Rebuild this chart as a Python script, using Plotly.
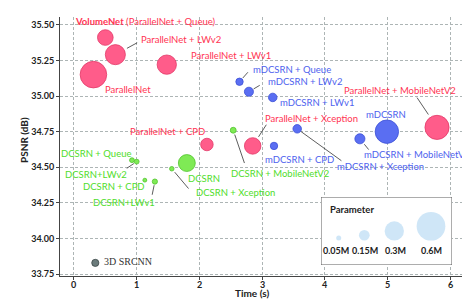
import plotly.graph_objects as go

# ---------------- data ----------------
pn_names = ["VolumeNet (ParallelNet + Queue)", "ParallelNet + LWv2", "ParallelNet",
            "ParallelNet + LWv1", "ParallelNet + CPD", "ParallelNet + Xception",
            "ParallelNet + MobileNetV2"]
pn_time = [0.50, 0.66, 0.31, 1.48, 2.12, 2.85, 5.79]
pn_psnr = [35.41, 35.29, 35.15, 35.22, 34.66, 34.65, 34.78]
pn_param = [0.27, 0.38, 0.56, 0.36, 0.20, 0.29, 0.49]

md_names = ["mDCSRN + Queue", "mDCSRN + LWv2", "mDCSRN + LWv1", "mDCSRN + CPD",
            "mDCSRN + Xception", "mDCSRN + MobileNetV2", "mDCSRN"]
md_time = [2.64, 2.79, 3.17, 3.19, 3.56, 4.56, 4.99]
md_psnr = [35.10, 35.03, 34.99, 34.65, 34.77, 34.70, 34.75]
md_param = [0.10, 0.13, 0.12, 0.10, 0.12, 0.15, 0.47]

dc_names = ["DCSRN + Queue", "DCSRN+LWv2", "DCSRN + CPD", "DCSRN+LWv1",
            "DCSRN + Xception", "DCSRN", "DCSRN + MobileNetV2"]
dc_time = [0.925, 1.00, 1.13, 1.29, 1.56, 1.80, 2.54]
dc_psnr = [34.55, 34.54, 34.41, 34.40, 34.49, 34.53, 34.76]
dc_param = [0.059, 0.059, 0.045, 0.064, 0.054, 0.30, 0.075]

sr_names = ["3D SRCNN"]
sr_time = [0.34]
sr_psnr = [33.83]
sr_param = [0.096]

legend_params = [0.05, 0.15, 0.3, 0.6]
legend_labels = ["0.05M", "0.15M", "0.3M", "0.6M"]

x_ticks = [0, 1, 2, 3, 4, 5, 6]
y_ticks = [33.75, 34.00, 34.25, 34.50, 34.75, 35.00, 35.25, 35.50]

# ---------------- styles ----------------
FONT = "Lato"
def dia(p):
    return 41.1 * p ** 0.7 - 0.8

families = [
    (pn_names, pn_time, pn_psnr, pn_param, "#FF5C8A", "#E23A68", "#FF3352"),
    (md_names, md_time, md_psnr, md_param, "#5A6EF2", "#3B4FD6", "#4E62EE"),
    (dc_names, dc_time, dc_psnr, dc_param, "#7FEA55", "#52C42E", "#4FDD2A"),
    (sr_names, sr_time, sr_psnr, sr_param, "#6C7C7C", "#3A4646", "#333333"),
]

# label offsets (pixels from bubble centre, screen-down positive)
label_off = {
    "VolumeNet (ParallelNet + Queue)": (39.7, -16),
    "ParallelNet + LWv2": (65.8, -14.7),
    "ParallelNet + LWv1": (63.8, -8.7),
    "ParallelNet": (34.3, 15.3),
    "ParallelNet + CPD": (-39, -13),
    "ParallelNet + Xception": (59.3, -27.7),
    "ParallelNet + MobileNetV2": (-37, -37.3),
    "mDCSRN + Queue": (52.7, -12),
    "mDCSRN + LWv2": (56, -10),
    "mDCSRN + LWv1": (43.8, 4.7),
    "mDCSRN + CPD": (25, 14),
    "mDCSRN + Xception": (83.7, 38),
    "mDCSRN + MobileNetV2": (56.8, 16),
    "mDCSRN": (-0.5, -17),
    "DCSRN + Queue": (-35.5, -6.3),
    "DCSRN+LWv2": (-40.7, 13),
    "DCSRN + CPD": (-30.5, 6.7),
    "DCSRN+LWv1": (-31, 20.7),
    "DCSRN": (16.8, 15.7),
    "DCSRN + Xception": (63.5, 23.3),
    "DCSRN + MobileNetV2": (47.2, 43.3),
    "3D SRCNN": (32.2, -1),
}
# leader lines: (tail dx, tail dy, standoff)
leaders = {
    "ParallelNet + LWv2": (23.3, -12.7, 13.2),
    "mDCSRN + Queue": (9.7, -11, 5),
    "mDCSRN + LWv2": (12.3, -7.3, 5.5),
    "ParallelNet + MobileNetV2": (-21, -31.3, 15.5),
    "ParallelNet + Xception": (14.6, -22.7, 10.8),
    "DCSRN+LWv2": (-11.4, 7.7, 3.4),
    "DCSRN+LWv1": (-3, 14.7, 3.7),
    "DCSRN + Xception": (18, 21.3, 4.5),
    "DCSRN + MobileNetV2": (11.7, 34.3, 4.6),
    "mDCSRN + Xception": (45.7, 33, 4.8),
    "mDCSRN + MobileNetV2": (10, 12.3, 7),
}

fig = go.Figure()
annotations = []
for names, t, p, par, fill, edge, tcol in families:
    fig.add_trace(go.Scatter(
        x=t, y=p, mode="markers",
        marker=dict(size=[dia(v) for v in par], color=fill,
                    line=dict(color=edge, width=0.8), opacity=1),
        hoverinfo="skip", showlegend=False))
    for n, xi, yi in zip(names, t, p):
        dx, dy = label_off[n]
        txt = n
        fam = FONT
        size = 9.5
        if n.startswith("VolumeNet"):
            txt = "<b>VolumeNet</b> (ParallelNet + Queue)"
        if n == "3D SRCNN":
            fam = "Liberation Serif"
            size = 10
        annotations.append(dict(x=xi, y=yi, xref="x", yref="y", text=txt,
                                showarrow=False, xshift=dx, yshift=-dy,
                                font=dict(family=fam, size=size, color=tcol)))
        if n in leaders:
            ax, ay, so = leaders[n]
            annotations.append(dict(x=xi, y=yi, xref="x", yref="y", text="",
                                    showarrow=True, arrowhead=0, arrowwidth=0.8,
                                    arrowcolor="#333333", ax=ax, ay=ay,
                                    standoff=so))

# x tick labels (placed just under the axis)
for v in x_ticks:
    annotations.append(dict(x=v, y=0, xref="x", yref="paper", text=f"<b>{v}</b>",
                            showarrow=False, yanchor="middle", yshift=-8,
                            borderpad=0,
                            font=dict(family=FONT, size=9, color="#222222")))

# ---------------- size legend (inset) ----------------
L, R, T, B = 52, 462, 9, 268   # plot area pixels
W, H = R - L, B - T
bx0, by0, bx1, by1 = 313, 189, 444, 257
fig.add_trace(go.Scatter(
    x=[0, 131, 131, 0, 0], y=[0, 0, 68, 68, 0], mode="lines", fill="toself",
    fillcolor="white", line=dict(color="#5A5A5A", width=1),
    xaxis="x2", yaxis="y2", hoverinfo="skip", showlegend=False))
leg_x = [17.7, 43.3, 73.3, 110]
leg_d = [5, 10.7, 19.3, 28.7]
fig.add_trace(go.Scatter(
    x=leg_x, y=[24.4 + d / 2 for d in leg_d], mode="markers",
    marker=dict(size=leg_d, color="#BBDCF4", line=dict(width=0)),
    xaxis="x2", yaxis="y2", hoverinfo="skip", showlegend=False))
lab_x = [15.3, 44.2, 74.5, 110.7]
for lx, lt in zip(lab_x, legend_labels):
    annotations.append(dict(x=lx, y=14, xref="x2", yref="y2", text=f"<b>{lt}</b>",
                            showarrow=False,
                            font=dict(family=FONT, size=9, color="#222222")))
annotations.append(dict(x=30.7, y=55.3, xref="x2", yref="y2", text="<b>Parameter</b>",
                        showarrow=False, font=dict(family=FONT, size=9.5, color="#222222")))

# axis titles
annotations.append(dict(x=(244 - L) / W, y=(B - 291.5) / H, xref="paper", yref="paper",
                        text="<b>Time (s)</b>", showarrow=False, borderpad=0,
                        font=dict(family=FONT, size=10, color="#222222")))
annotations.append(dict(x=(8 - L) / W, y=(B - 132) / H, xref="paper", yref="paper",
                        text="<b>PSNR (dB)</b>", showarrow=False, textangle=-90,
                        font=dict(family=FONT, size=10, color="#222222")))

grid = dict(showgrid=True, gridcolor="#ADB5B5", gridwidth=1, griddash="3px,2px")
fig.update_layout(
    width=470, height=301,
    margin=dict(l=L, r=470 - R, t=T, b=301 - B, pad=0),
    paper_bgcolor="white", plot_bgcolor="white",
    font=dict(family=FONT, size=10, color="#222222"),
    xaxis=dict(range=[-0.223, 6.316], tickvals=x_ticks, showticklabels=False,
               showline=True, linecolor="#444444", linewidth=1,
               ticks="outside", ticklen=3, tickcolor="#444444",
               zeroline=False, **grid),
    yaxis=dict(range=[33.738, 35.554], tickvals=y_ticks,
               ticktext=[f"<b>{v:.2f}</b>" for v in y_ticks],
               showline=True, linecolor="#444444", linewidth=1,
               ticks="outside", ticklen=3, tickcolor="#444444",
               zeroline=False, tickfont=dict(size=9), **grid),
    xaxis2=dict(domain=[(bx0 - L) / W, (bx1 - L) / W], range=[0, 131],
                anchor="y2", visible=False, fixedrange=True),
    yaxis2=dict(domain=[(B - by1) / H, (B - by0) / H], range=[0, 68],
                anchor="x2", visible=False, fixedrange=True),
    annotations=annotations,
    showlegend=False,
)
fig.write_html("out.html")
